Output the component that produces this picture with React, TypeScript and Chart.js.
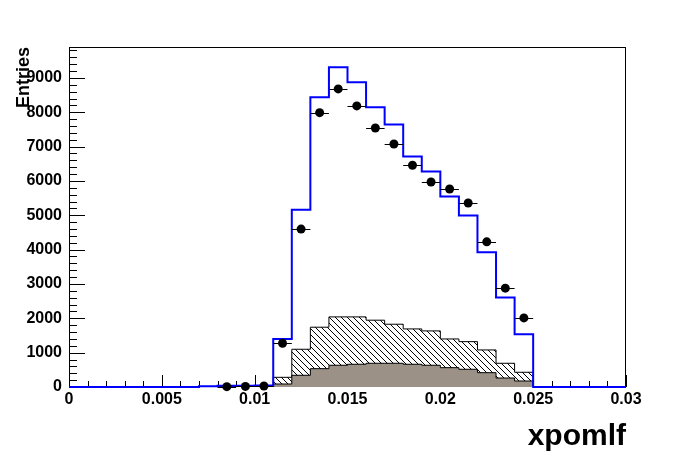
import React, { useEffect, useRef } from "react";
import { Chart, registerables } from "chart.js";

Chart.register(...registerables);

// ---- data ----
const binLowEdges = [
  0, 0.001, 0.002, 0.003, 0.004, 0.005, 0.006, 0.007, 0.008, 0.009,
  0.01, 0.011, 0.012, 0.013, 0.014, 0.015, 0.016, 0.017, 0.018, 0.019,
  0.02, 0.021, 0.022, 0.023, 0.024, 0.025, 0.026, 0.027, 0.028, 0.029,
];
const lastEdge = 0.03;
const binHalfWidth = 0.0005;

// blue MC histogram (one value per bin)
const mcTotal = [
  0, 0, 0, 0, 0, 0, 0, 25, 35, 40,
  45, 1400, 5160, 8435, 9309, 8872, 8143, 7647, 6714, 6277,
  5548, 4994, 3927, 2603, 1536, 0, 0, 0, 0, 0,
];

// data points (bin centres)
const dataX = [
  0.0085, 0.0095, 0.0105, 0.0115, 0.0125, 0.0135, 0.0145, 0.0155, 0.0165,
  0.0175, 0.0185, 0.0195, 0.0205, 0.0215, 0.0225, 0.0235, 0.0245,
];
const dataY = [
  10, 18, 30, 1274, 4598, 7988, 8679, 8184, 7542,
  7076, 6458, 5968, 5764, 5356, 4227, 2878, 2012,
];

// background histograms (bins 0.011 .. 0.025)
const bgLowEdges = [
  0.011, 0.012, 0.013, 0.014, 0.015, 0.016, 0.017, 0.018, 0.019, 0.02,
  0.021, 0.022, 0.023, 0.024,
];
const bgUpperEdge = 0.025;
const bgHatched = [282, 1099, 1741, 2041, 2041, 1945, 1828, 1691, 1633, 1399, 1321, 1079, 691, 429];
const bgGray = [87, 341, 534, 633, 662, 691, 691, 662, 633, 563, 516, 417, 262, 175];

// axes
const xMin = 0;
const xMax = 0.03;
const yMin = 0;
const yMax = 9900;
const xTickValues = [0, 0.005, 0.01, 0.015, 0.02, 0.025, 0.03];
const xTickLabels = ["0", "0.005", "0.01", "0.015", "0.02", "0.025", "0.03"];
const yTickValues = [0, 1000, 2000, 3000, 4000, 5000, 6000, 7000, 8000, 9000];
const yTickLabels = ["0", "1000", "2000", "3000", "4000", "5000", "6000", "7000", "8000", "9000"];
const xMinorStep = 0.001;
const yMinorStep = 200;

const xTitle = "xpomlf";
const yTitle = "Entries";

const FONT = "'Liberation Sans', Arial, Helvetica, sans-serif";

function stepPoints(lows: number[], vals: number[], upper: number) {
  const pts: { x: number; y: number }[] = [{ x: lows[0], y: 0 }];
  lows.forEach((x, i) => pts.push({ x, y: vals[i] }));
  pts.push({ x: upper, y: 0 });
  return pts;
}

function makeHatch(): CanvasPattern | string {
  const s = 6;
  const c = document.createElement("canvas");
  c.width = s;
  c.height = s;
  const g = c.getContext("2d");
  if (!g) return "#fff";
  g.fillStyle = "#ffffff";
  g.fillRect(0, 0, s, s);
  g.fillStyle = "#000000";
  for (let i = 0; i < s; i++) g.fillRect(i, i, 1, 1);
  const p = g.createPattern(c, "repeat");
  return p || "#fff";
}

const rootAxesPlugin = {
  id: "rootAxes",
  beforeDatasetsDraw(chart: any) {
    const { ctx, chartArea, scales } = chart;
    const { left, right, top, bottom } = chartArea;
    const xs = scales.x;
    const ys = scales.y;
    ctx.save();
    ctx.strokeStyle = "#000";
    ctx.lineWidth = 1;
    ctx.strokeRect(left + 0.5, top + 0.5, right - left - 1, bottom - top - 1);
    ctx.beginPath();
    // x ticks: minor every 0.001, major at labelled values
    const nx = Math.round((xMax - xMin) / xMinorStep);
    for (let i = 0; i <= nx; i++) {
      const v = xMin + i * xMinorStep;
      const major = xTickValues.some((t) => Math.abs(t - v) < 1e-9);
      const px = Math.round(xs.getPixelForValue(v)) + 0.5;
      const len = major ? 12 : 6;
      ctx.moveTo(px, bottom);
      ctx.lineTo(px, bottom - len);
    }
    // y ticks: minor every 200, major at labelled values
    const ny = Math.floor((yMax - yMin) / yMinorStep);
    for (let i = 0; i <= ny; i++) {
      const v = yMin + i * yMinorStep;
      const major = yTickValues.indexOf(v) >= 0;
      const py = Math.round(ys.getPixelForValue(v)) + 0.5;
      const len = major ? 16 : 8;
      ctx.moveTo(left, py);
      ctx.lineTo(left + len, py);
    }
    ctx.stroke();
    ctx.restore();
  },
  afterDatasetsDraw(chart: any) {
    const { ctx, scales } = chart;
    const xs = scales.x;
    const ys = scales.y;
    ctx.save();
    ctx.strokeStyle = "#000";
    ctx.lineWidth = 1;
    ctx.beginPath();
    dataX.forEach((cx, i) => {
      const py = Math.round(ys.getPixelForValue(dataY[i])) + 0.5;
      ctx.moveTo(xs.getPixelForValue(cx - binHalfWidth), py);
      ctx.lineTo(xs.getPixelForValue(cx + binHalfWidth), py);
    });
    ctx.stroke();
    ctx.restore();
  },
};

export default function App() {
  const ref = useRef<HTMLCanvasElement | null>(null);

  useEffect(() => {
    const canvas = ref.current;
    if (!canvas) return;
    const hatch = makeHatch();
    const chart = new Chart(canvas, {
      type: "line",
      data: {
        datasets: [
          {
            type: "scatter",
            label: "data",
            data: dataX.map((x, i) => ({ x, y: dataY[i] })),
            pointRadius: 4.5,
            pointHoverRadius: 4.5,
            pointBackgroundColor: "#000",
            pointBorderWidth: 0,
            showLine: false,
            clip: false,
          } as any,
          {
            label: "mc",
            data: stepPoints(binLowEdges, mcTotal, lastEdge),
            stepped: "before",
            borderColor: "#0000ff",
            borderWidth: 2,
            pointRadius: 0,
            fill: false,
            clip: false,
          } as any,
          {
            label: "bg2",
            data: stepPoints(bgLowEdges, bgGray, bgUpperEdge),
            stepped: "before",
            borderColor: "#000",
            borderWidth: 1,
            backgroundColor: "rgb(156,145,135)",
            pointRadius: 0,
            fill: "origin",
          } as any,
          {
            label: "bg1",
            data: stepPoints(bgLowEdges, bgHatched, bgUpperEdge),
            stepped: "before",
            borderColor: "#000",
            borderWidth: 1,
            backgroundColor: hatch,
            pointRadius: 0,
            fill: "origin",
          } as any,
        ],
      },
      options: {
        responsive: false,
        devicePixelRatio: 1,
        animation: false,
        events: [],
        layout: { padding: { left: 0, right: 70, top: 47, bottom: 0 } },
        plugins: {
          legend: { display: false },
          tooltip: { enabled: false },
          title: { display: false },
        },
        scales: {
          x: {
            type: "linear",
            min: xMin,
            max: xMax,
            grid: { display: false, drawTicks: false },
            border: { display: false },
            afterBuildTicks: (s: any) => {
              s.ticks = xTickValues.map((value) => ({ value }));
            },
            ticks: {
              padding: 3,
              color: "#000",
              maxRotation: 0,
              autoSkip: false,
              font: { family: FONT, weight: "bold", size: 16 },
              callback: (v: any, i: number) => xTickLabels[i],
            },
            title: {
              display: true,
              text: xTitle,
              align: "end",
              color: "#000",
              font: { family: FONT, weight: "bold", size: 30 },
              padding: { top: 0, bottom: 17 },
            },
            afterFit: (s: any) => {
              s.height = 85;
            },
          },
          y: {
            type: "linear",
            min: yMin,
            max: yMax,
            grid: { display: false, drawTicks: false },
            border: { display: false },
            afterBuildTicks: (s: any) => {
              s.ticks = yTickValues.map((value) => ({ value }));
            },
            ticks: {
              padding: 7,
              color: "#000",
              autoSkip: false,
              font: { family: FONT, weight: "bold", size: 16 },
              callback: (v: any, i: number) => yTickLabels[i],
            },
            title: {
              display: true,
              text: yTitle,
              align: "end",
              color: "#000",
              font: { family: FONT, weight: "bold", size: 18 },
              padding: { top: 13, bottom: 0 },
            },
            afterFit: (s: any) => {
              s.width = 69;
            },
          },
        },
      } as any,
      plugins: [rootAxesPlugin],
    });
    return () => chart.destroy();
  }, []);

  return (
    <div style={{ position: "absolute", left: 0, top: 0, width: 696, height: 472, background: "#fff" }}>
      <canvas ref={ref} width={696} height={472} style={{ display: "block", width: 696, height: 472 }} />
    </div>
  );
}
